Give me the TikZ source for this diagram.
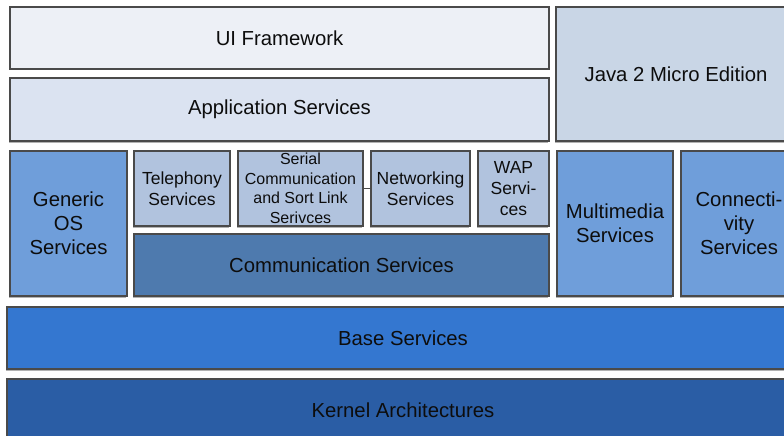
\documentclass[tikz,border=0pt]{standalone}
\usepackage{fontspec}
\setmainfont{Liberation Sans}
\usetikzlibrary{shadows}

\definecolor{uiblue}{HTML}{EDF0F6}
\definecolor{appblue}{HTML}{DBE3F1}
\definecolor{javablue}{HTML}{C9D6E6}
\definecolor{subblue}{HTML}{B1C3DE}
\definecolor{midblue}{HTML}{6F9EDA}
\definecolor{commblue}{HTML}{4E7AAE}
\definecolor{baseblue}{HTML}{3477D0}
\definecolor{kernblue}{HTML}{2A5DA5}
\definecolor{edge}{HTML}{4A4A4A}

\begin{document}
\begin{tikzpicture}[x=1pt,y=-1pt,
  layer/.style={draw=edge, line width=1.1pt, inner sep=0pt, align=center,
    text=black!95, font=\fontsize{20.3}{24}\selectfont,
    drop shadow={shadow xshift=-1pt, shadow yshift=-1.5pt, fill=black, opacity=.3}},
  svc/.style={layer, fill=subblue, font=\fontsize{17.5}{21}\selectfont}]
  \useasboundingbox (0,0) rectangle (784,436);
  \clip (0,0) rectangle (784,436);
  % top layers
  \node[layer, fill=uiblue, minimum width=539pt, minimum height=62pt] (ui) at (279.5,38) {UI Framework};
  \node[layer, fill=appblue, minimum width=539pt, minimum height=63pt] (app) at (279.5,109.5) {Application Services};
  \node[layer, fill=javablue, minimum width=240pt, minimum height=134pt] (java) at (676,74) {Java 2 Micro Edition};
  % middle layer
  \node[layer, fill=midblue, minimum width=117pt, minimum height=145pt] (generic) at (68.5,223.5) {Generic\\OS\\Services};
  \node[svc, minimum width=96pt, minimum height=75pt] (tel) at (182,188.5) {Telephony\\Services};
  \node[svc, minimum width=125pt, minimum height=75pt, font=\fontsize{16}{19.5}\selectfont] (serial) at (300.5,188.5) {Serial\\Communication\\and Sort Link\\Serivces};
  \node[svc, minimum width=99pt, minimum height=75pt] (net) at (420.5,188.5) {Networking\\Services};
  \node[svc, minimum width=71pt, minimum height=75pt] (wap) at (513.5,188.5) {WAP\\Servi-\\ces};
  \draw[draw=edge, line width=1.1pt] (serial.east) -- (net.west);
  \node[layer, fill=commblue, minimum width=415pt, minimum height=62pt] (comm) at (341.5,265) {Communication Services};
  \node[layer, fill=midblue, minimum width=116pt, minimum height=145pt] (multi) at (615,223.5) {Multimedia\\Services};
  \node[layer, fill=midblue, minimum width=116pt, minimum height=145pt] (conn) at (739,223.5) {Connecti-\\vity\\Services};
  % bottom layers
  \node[layer, fill=baseblue, minimum width=792pt, minimum height=62pt] (base) at (403,338) {Base Services};
  \node[layer, fill=kernblue, minimum width=792pt, minimum height=62pt] (kernel) at (403,410) {Kernel Architectures};
\end{tikzpicture}
\end{document}
